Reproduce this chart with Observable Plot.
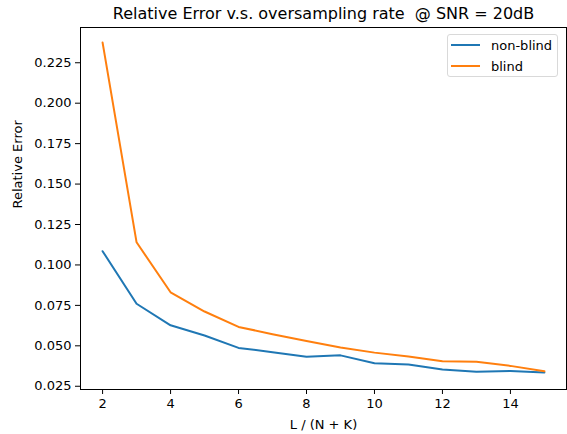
<!DOCTYPE html>
<html><head><meta charset="utf-8">
<script src="https://cdn.jsdelivr.net/npm/d3@7"></script>
<script src="https://cdn.jsdelivr.net/npm/@observablehq/plot@0.6"></script>
<style>
body{margin:0;background:#fff;}
#wrap{position:relative;width:567px;height:434px;font-family:"DejaVu Sans",sans-serif;color:#000;}
#wrap svg text{white-space:pre;}
#legend{position:absolute;left:447px;top:34px;width:111px;height:43px;border:1px solid #d9d9d9;border-radius:3px;background:rgba(255,255,255,0.8);box-sizing:border-box;}
.row{position:absolute;left:0;height:20px;display:flex;align-items:center;font-size:13px;}
.sw{width:29px;height:2px;margin-left:3px;margin-right:11px;}
</style></head><body><div id="wrap"></div>
<script>
const rate = [2,3,4,5,6,7,8,9,10,11,12,13,14,15];
const nonBlind = [0.1085,0.076,0.0627,0.0564,0.0487,0.0461,0.0432,0.0441,0.0392,0.0384,0.0353,0.0339,0.0345,0.0335];
const blind = [0.2375,0.114,0.0831,0.0712,0.0617,0.0572,0.0530,0.0490,0.0458,0.0434,0.0404,0.0402,0.0376,0.0343];
const seriesNames = ["non-blind","blind"];
const colors = ["#1f77b4","#ff7f0e"];
const yTicks = [0.025,0.05,0.075,0.1,0.125,0.15,0.175,0.2,0.225];
const xTicks = [2,4,6,8,10,12,14];
const titleText = "Relative Error v.s. oversampling rate  @ SNR = 20dB";
const xLabel = "L / (N + K)";
const yLabel = "Relative Error";

const data = rate.flatMap((r,i)=>[
  {r, v:nonBlind[i], s:seriesNames[0]},
  {r, v:blind[i], s:seriesNames[1]}
]);

const plot = Plot.plot({
  width:567, height:434,
  marginTop:27, marginRight:1, marginBottom:45, marginLeft:80,
  style:{fontFamily:"DejaVu Sans, sans-serif", fontSize:"13px", background:"white", color:"black"},
  x:{domain:[1.35,15.65]},
  y:{domain:[0.023,0.2468]},
  color:{domain:seriesNames, range:colors},
  marks:[
    Plot.axisX({ticks:xTicks, tickSize:5, tickPadding:4, label:null, fontSize:13}),
    Plot.axisY({ticks:yTicks, tickSize:5, tickPadding:4, tickFormat:d3.format(".3f"), label:null, fontSize:13}),
    Plot.frame({stroke:"black", strokeWidth:1}),
    Plot.lineY(data,{x:"r", y:"v", stroke:"s", strokeWidth:2, z:"s"}),
    Plot.text([titleText],{frameAnchor:"top", dy:-14, fontSize:16, lineAnchor:"middle"}),
    Plot.text([xLabel],{frameAnchor:"bottom", dy:35, fontSize:13, lineAnchor:"middle"}),
    Plot.text([yLabel],{frameAnchor:"left", dx:-63, rotate:-90, fontSize:13, lineAnchor:"middle"})
  ]
});
const wrap = document.getElementById("wrap");
wrap.appendChild(plot);
const legend = document.createElement("div");
legend.id = "legend";
seriesNames.forEach((name,i)=>{
  const row = document.createElement("div");
  row.className = "row";
  row.style.top = (i===0 ? 0 : 21) + "px";
  const sw = document.createElement("div");
  sw.className = "sw";
  sw.style.background = colors[i];
  const t = document.createElement("span");
  t.textContent = name;
  row.appendChild(sw); row.appendChild(t);
  legend.appendChild(row);
});
wrap.appendChild(legend);
</script></body></html>
